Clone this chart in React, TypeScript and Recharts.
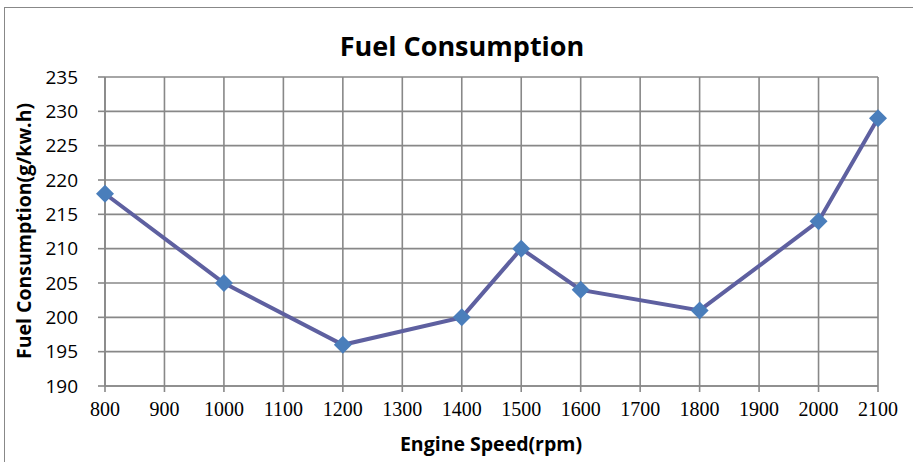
import React from "react";
import { LineChart, Line, XAxis, YAxis, CartesianGrid } from "recharts";

const speeds = [800, 1000, 1200, 1400, 1500, 1600, 1800, 2000, 2100];
const consumption = [218, 205, 196, 200, 210, 204, 201, 214, 229];
const xTicks = [800, 900, 1000, 1100, 1200, 1300, 1400, 1500, 1600, 1700, 1800, 1900, 2000, 2100];
const yTicks = [190, 195, 200, 205, 210, 215, 220, 225, 230, 235];

const data = speeds.map((s, i) => ({ speed: s, fuel: consumption[i] }));

const Diamond = (props: any) => {
  const { cx, cy } = props;
  if (cx == null || cy == null) return null;
  const r = 9;
  return (
    <path
      d={`M${cx},${cy - r}L${cx + r},${cy}L${cx},${cy + r}L${cx - r},${cy}Z`}
      fill="#4a7ebb"
    />
  );
};

export default function App() {
  return (
    <div
      style={{
        position: "absolute",
        left: 0,
        top: 0,
        width: 913,
        height: 462,
        overflow: "hidden",
        background: "#fff",
      }}
    >
      <div
        style={{
          position: "absolute",
          left: 4,
          top: 7,
          width: 940,
          height: 480,
          border: "1px solid #888",
          boxSizing: "border-box",
        }}
      />
      <div style={{ position: "absolute", left: 0, top: 0 }}>
        <LineChart
          width={913}
          height={462}
          data={data}
          margin={{ top: 77, right: 35, bottom: 46, left: 0 }}
        >
          <CartesianGrid stroke="#888" strokeWidth={1.6} />
          <XAxis
            dataKey="speed"
            type="number"
            domain={[800, 2100]}
            ticks={xTicks}
            interval={0}
            height={30}
            stroke="#888"
            strokeWidth={1.6}
            tickSize={6}
            tickMargin={10}
            tick={{ fill: "#000", fontSize: 20, fontFamily: "Liberation Serif" }}
          />
          <YAxis
            type="number"
            domain={[190, 235]}
            ticks={yTicks}
            interval={0}
            width={105}
            stroke="#888"
            strokeWidth={1.6}
            tickSize={7}
            tickMargin={20}
            tick={{ fill: "#000", fontSize: 19, fontFamily: "Open Sans" }}
          />
          <Line
            dataKey="fuel"
            stroke="#5e60a0"
            strokeWidth={4}
            dot={<Diamond />}
            activeDot={false}
            isAnimationActive={false}
          />
        </LineChart>
      </div>
      <svg
        width={913}
        height={462}
        style={{ position: "absolute", left: 0, top: 0, pointerEvents: "none" }}
      >
        <text
          x={462}
          y={56}
          textAnchor="middle"
          fontFamily="Open Sans"
          fontWeight="bold"
          fontSize={27}
          fill="#000"
        >
          Fuel Consumption
        </text>
        <text
          x={491}
          y={451}
          textAnchor="middle"
          fontFamily="Open Sans"
          fontWeight="bold"
          fontSize={19.5}
          fill="#000"
        >
          Engine Speed(rpm)
        </text>
        <text
          x={31}
          y={231}
          textAnchor="middle"
          transform="rotate(-90 31 231)"
          fontFamily="Open Sans"
          fontWeight="bold"
          fontSize={19.5}
          fill="#000"
        >
          Fuel Consumption(g/kw.h)
        </text>
      </svg>
    </div>
  );
}
